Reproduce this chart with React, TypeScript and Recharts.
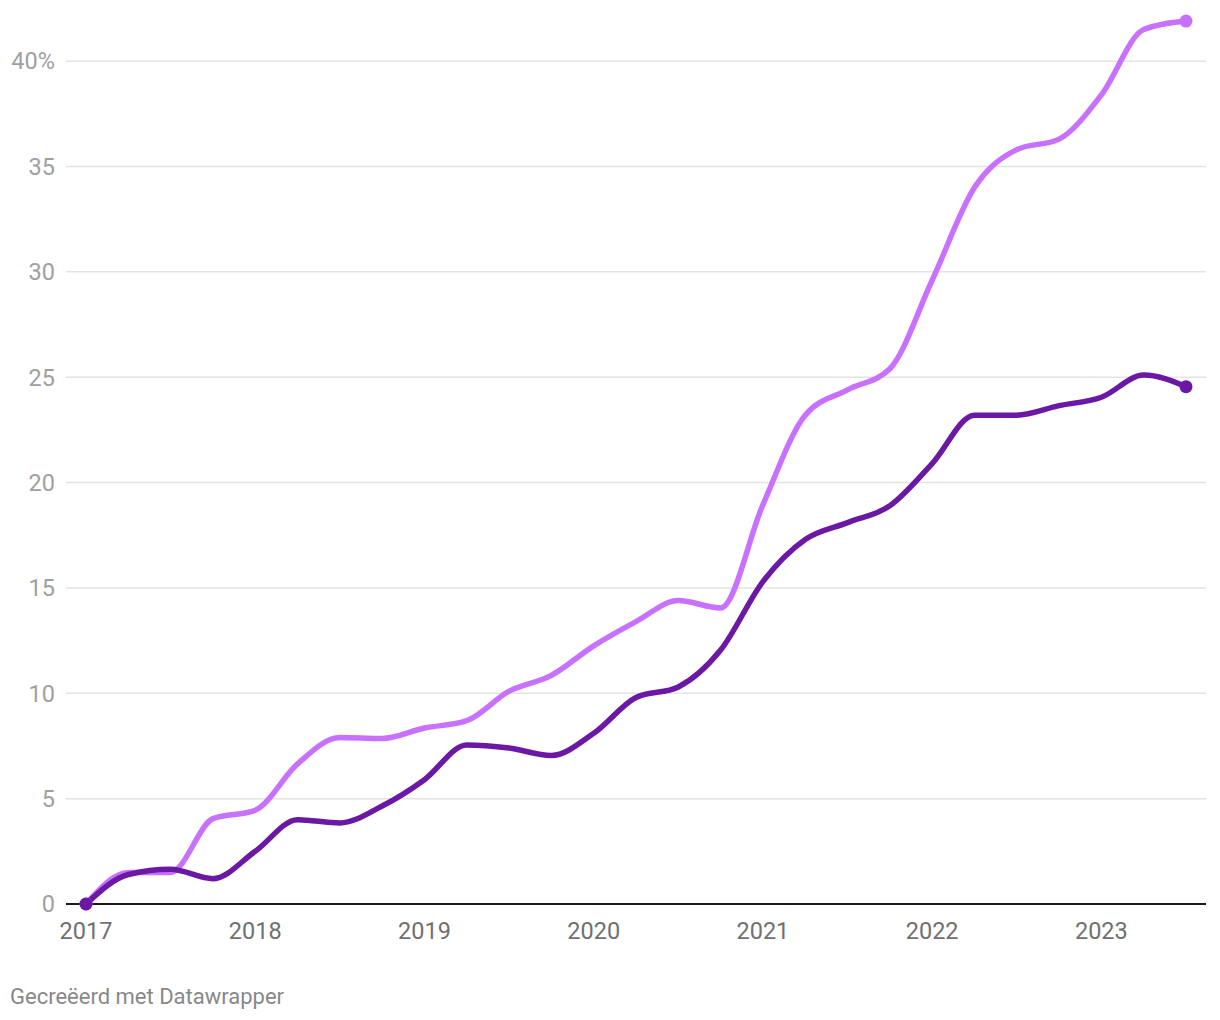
import { CartesianGrid, Line, LineChart, XAxis, YAxis } from "recharts";

// quarterly points, 2017 Q1 .. 2023 Q3
const quarters = [
  2017, 2017.25, 2017.5, 2017.75, 2018, 2018.25, 2018.5, 2018.75, 2019, 2019.25, 2019.5, 2019.75,
  2020, 2020.25, 2020.5, 2020.75, 2021, 2021.25, 2021.5, 2021.75, 2022, 2022.25, 2022.5, 2022.75,
  2023, 2023.25, 2023.5,
];
const lightValues = [
  0, 1.5, 1.5, 4.05, 4.45, 6.65, 7.9, 7.85, 8.35, 8.7, 10.1, 10.85, 12.25, 13.4, 14.4, 14.05, 18.95,
  23.2, 24.4, 25.4, 29.6, 34.0, 35.8, 36.3, 38.4, 41.5, 41.9,
];
const darkValues = [
  0, 1.4, 1.65, 1.2, 2.5, 4.0, 3.85, 4.65, 5.9, 7.55, 7.4, 7.05, 8.1, 9.8, 10.3, 12.05, 15.3, 17.3,
  18.1, 18.9, 20.9, 23.2, 23.2, 23.65, 24.05, 25.1, 24.55,
];
const yearTicks = [2017, 2018, 2019, 2020, 2021, 2022, 2023];
const valueTicks = [0, 5, 10, 15, 20, 25, 30, 35, 40];

const data = quarters.map((q, i) => ({ q, light: lightValues[i], dark: darkValues[i] }));

const LIGHT = "#c871ff";
const DARK = "#6b18a4";
const last = quarters.length - 1;

const endDot = (color: string) => (props: any) => {
  const { cx, cy, index } = props;
  if (index !== 0 && index !== last) return <g key={index} />;
  return <circle key={index} cx={cx} cy={cy} r={6.5} fill={color} />;
};

export default function App() {
  return (
    <div
      style={{
        position: "absolute",
        left: 0,
        top: 0,
        width: 1220,
        height: 1020,
        background: "#fff",
        fontFamily: "Roboto, sans-serif",
      }}
    >
      <LineChart
        width={1220}
        height={960}
        data={data}
        margin={{ top: 19, right: 14, left: 0, bottom: 16 }}
      >
        <CartesianGrid
          vertical={false}
          horizontalValues={valueTicks}
          stroke="#e3e3e3"
          strokeWidth={1.5}
        />
        <XAxis
          dataKey="q"
          type="number"
          domain={[2017, 2023.5]}
          ticks={yearTicks}
          padding={{ left: 20, right: 20 }}
          height={40}
          tickLine={false}
          tickMargin={12}
          axisLine={{ stroke: "#1a1a1a", strokeWidth: 2 }}
          tick={{ fill: "#707070", fontSize: 23.5, fontFamily: "Roboto" }}
        />
        <YAxis
          domain={[0, 42]}
          ticks={valueTicks}
          width={66}
          tickLine={false}
          axisLine={false}
          tickMargin={5}
          tickFormatter={(v: number) => (v === 40 ? "40%" : String(v))}
          tick={{ fill: "#a0a0a0", fontSize: 23.5, fontFamily: "Roboto" }}
        />
        <Line
          type="monotone"
          dataKey="light"
          stroke={LIGHT}
          strokeWidth={5.5}
          dot={endDot(LIGHT)}
          activeDot={false}
          isAnimationActive={false}
        />
        <Line
          type="monotone"
          dataKey="dark"
          stroke={DARK}
          strokeWidth={5.5}
          dot={endDot(DARK)}
          activeDot={false}
          isAnimationActive={false}
        />
      </LineChart>
      <div
        style={{
          position: "absolute",
          left: 10,
          top: 984,
          fontSize: 22,
          color: "#888",
          fontFamily: "Roboto, sans-serif",
        }}
      >
        Gecreëerd met Datawrapper
      </div>
    </div>
  );
}
